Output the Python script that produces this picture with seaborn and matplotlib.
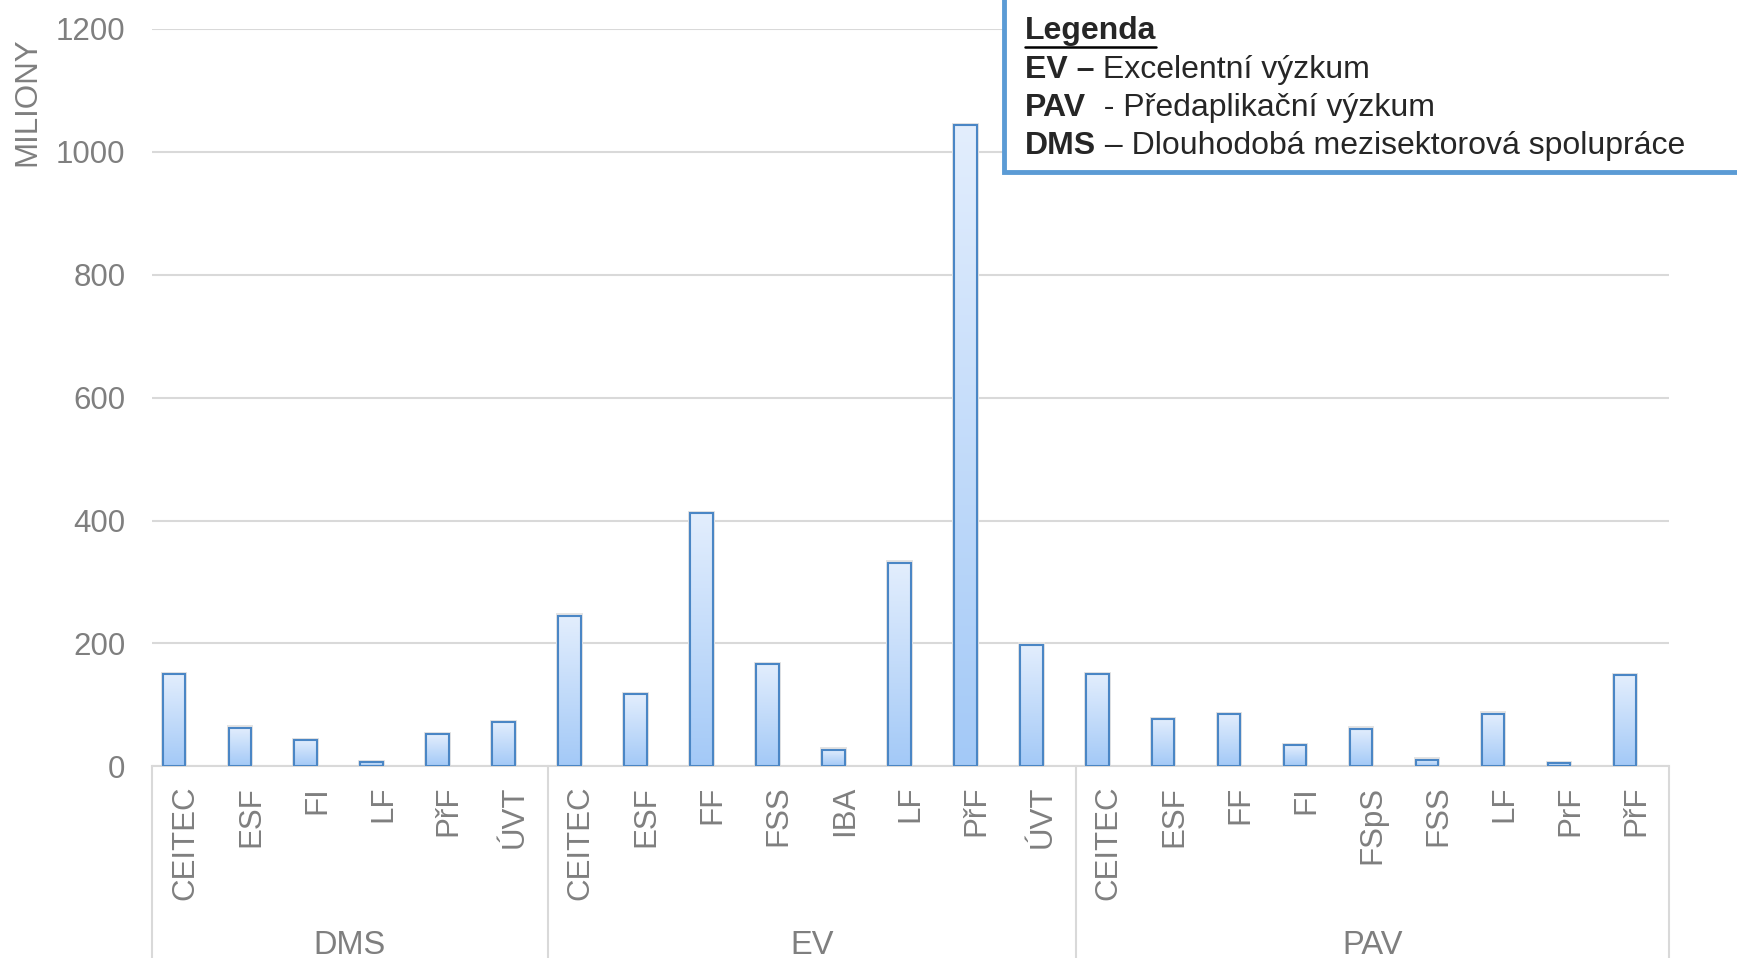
import numpy as np
import pandas as pd
import seaborn as sns
import matplotlib.pyplot as plt
from matplotlib.patches import Rectangle
from matplotlib.lines import Line2D
from matplotlib.transforms import blended_transform_factory

# data
groups = ["DMS"] * 6 + ["EV"] * 8 + ["PAV"] * 9
units = ["CEITEC", "ESF", "FI", "LF", "PřF", "ÚVT",
         "CEITEC", "ESF", "FF", "FSS", "IBA", "LF", "PřF", "ÚVT",
         "CEITEC", "ESF", "FF", "FI", "FSpS", "FSS", "LF", "PrF", "PřF"]
values = [150, 63, 43, 7, 52, 72,
          245, 117, 412, 166, 27, 331, 1043, 198,
          150, 77, 85, 34, 61, 11, 86, 5, 148]
group_names = ["DMS", "EV", "PAV"]
legend_rows = [("EV –", " Excelentní výzkum"),
               ("PAV", "  - Předaplikační výzkum"),
               ("DMS", " – Dlouhodobá mezisektorová spolupráce")]

GRAY = "#7f7f7f"
GRID = "#d9d9d9"
EDGE = "#4a86c5"
SHIFT = 0.17  # bars sit a bit left of the slot centre, like in Excel

sns.set_style("white")
plt.rcParams["font.family"] = ["Liberation Sans", "DejaVu Sans"]

df = pd.DataFrame({"group": groups, "unit": units, "value": values})
df["key"] = df["group"] + "|" + df["unit"]

fig = plt.figure(figsize=(17.37, 9.58), dpi=100)
ax = fig.add_axes([0.0875, 0.200, 0.8735, 0.770])

sns.barplot(data=df, x="key", y="value", width=0.34, ax=ax,
            facecolor="none", edgecolor=EDGE, linewidth=1.5, zorder=3)

# gradient fill + soft shadow for every bar
grad = np.linspace(0, 1, 256).reshape(-1, 1)
cmap = sns.blend_palette(["#e3eefd", "#a3c9f7"], as_cmap=True)
for p in ax.patches:
    x0, w, h = p.get_x(), p.get_width(), p.get_height()
    ax.add_patch(Rectangle((x0 - 0.03, 0), w + 0.06, h + 4, color="#e4e4e4",
                           lw=0, zorder=1))
    im = ax.imshow(grad, extent=[x0, x0 + w, 0, h], cmap=cmap, aspect="auto",
                   origin="upper", zorder=2)
    im.set_clip_path(p)

n = len(units)
ax.set_xlim(-0.5 + SHIFT, n - 0.5 + SHIFT)
ax.set_ylim(0, 1200)
ax.set_yticks(range(0, 1201, 200))
ax.yaxis.grid(True, color=GRID, lw=1.5, zorder=0)
ax.set_axisbelow(True)
sns.despine(ax=ax, left=True, top=True, right=True)
ax.spines["bottom"].set_color(GRID)
ax.spines["bottom"].set_linewidth(1.5)

ax.set_xticks(np.arange(n) + SHIFT)
ax.set_xticklabels(units, rotation=90, color=GRAY, fontsize=22.5)
ax.tick_params(axis="x", length=0, pad=14)
ax.tick_params(axis="y", length=0, pad=19, labelcolor=GRAY, labelsize=22.5)
ax.set_xlabel("")
ax.set_ylabel("")

# group separators and labels
trans = blended_transform_factory(ax.transData, ax.transAxes)
bounds = [-0.5 + SHIFT]
for g in group_names:
    bounds.append(bounds[-1] + groups.count(g))
for b in bounds:
    ax.add_line(Line2D([b, b], [0, -0.4], transform=trans, color=GRID,
                       lw=1.5, clip_on=False))
for g, a, b in zip(group_names, bounds[:-1], bounds[1:]):
    ax.text((a + b) / 2, -0.243, g, transform=trans, ha="center", va="center",
            color=GRAY, fontsize=23.5)

fig.text(27 / 1737, 1 - 102 / 958, "MILIONY", rotation=90, ha="center",
         va="center", color=GRAY, fontsize=22.5)

# legend box in upper right
fig.add_artist(Rectangle((1004 / 1737, 1 - 172 / 958), 0.5, 0.3,
                         transform=fig.transFigure, facecolor="white",
                         edgecolor="#5b9bd5", lw=3.5, zorder=10))

W, H = 1737, 958
x_start = 1025
renderer = fig.canvas.get_renderer()
title = fig.text(x_start / W, 1 - 31 / H, "Legenda", fontsize=23,
                 fontweight="bold", va="center", ha="left", zorder=11)
bb = title.get_window_extent(renderer)
fig.add_artist(Line2D([bb.x0 / W, bb.x1 / W], [(bb.y0 - 1) / H] * 2,
                      transform=fig.transFigure, color="black", lw=1.8,
                      zorder=11))
for (bold, rest), yc in zip(legend_rows, [70, 108, 146]):
    t = fig.text(x_start / W, 1 - yc / H, bold, fontsize=23, fontweight="bold",
                 va="center", ha="left", zorder=11)
    bb = t.get_window_extent(renderer)
    fig.text(bb.x1 / W, 1 - yc / H, rest, fontsize=23, va="center",
             ha="left", zorder=11)

fig.savefig("out.png", dpi=100)
